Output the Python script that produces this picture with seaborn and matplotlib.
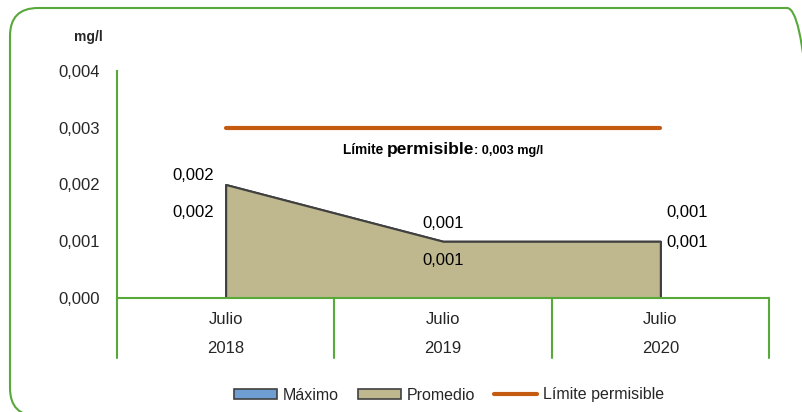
import numpy as np
import pandas as pd
import seaborn as sns
import matplotlib.pyplot as plt
from matplotlib.patches import Patch, FancyBboxPatch
from matplotlib.lines import Line2D
from matplotlib.offsetbox import TextArea, HPacker, AnnotationBbox

# datos
meses = ["Julio", "Julio", "Julio"]
anios = ["2018", "2019", "2020"]
maximo = [0.002, 0.001, 0.001]
promedio = [0.002, 0.001, 0.001]
limite = [0.003, 0.003, 0.003]
yticks = [0.000, 0.001, 0.002, 0.003, 0.004]

df = pd.DataFrame({"pos": range(len(anios)), "maximo": maximo,
                   "promedio": promedio, "limite": limite})

sns.set_theme(style="white")
plt.rcParams['font.family'] = ['Liberation Sans', 'DejaVu Sans']

verde = "#58A83A"
azul = "#6F9FD2"
tan = "#BFB88F"
naranja = "#C55A11"
gris = "#404040"
fs = 12

fig = plt.figure(figsize=(8.02, 4.12), dpi=100)
ax = fig.add_axes([117 / 802, 1 - 298 / 412, 652 / 802, 227 / 412])

# areas
ax.fill_between(df["pos"], 0, df["maximo"], facecolor=azul, edgecolor=gris, lw=1.5, zorder=2)
ax.fill_between(df["pos"], 0, df["promedio"], facecolor=tan, edgecolor=gris, lw=1.5, zorder=3)

# limite permisible
sns.lineplot(data=df, x="pos", y="limite", ax=ax, color=naranja, lw=3,
             solid_capstyle="round", zorder=4, legend=False)

ax.set_xlim(-0.5, 2.5)
ax.set_ylim(0, 0.004)
ax.set_yticks(yticks)
ax.set_yticklabels([f"{v:.3f}".replace(".", ",") for v in yticks], fontsize=fs)
ax.set_xticks(df["pos"])
ax.set_xticklabels([f"{m}\n{a}" for m, a in zip(meses, anios)], fontsize=fs, linespacing=2.2)
ax.tick_params(axis="y", length=6, width=1.5, color=verde, direction="out", pad=6)
ax.tick_params(axis="x", length=0, pad=10)
ax.set_xlabel("")
ax.set_ylabel("")

for s in ["top", "right"]:
    ax.spines[s].set_visible(False)
for s in ["left", "bottom"]:
    ax.spines[s].set_color(verde)
    ax.spines[s].set_linewidth(1.5)
    ax.spines[s].set_zorder(6)

# divisiones de categorias
for xv in [-0.5, 0.5, 1.5, 2.5]:
    ax.plot([xv, xv], [-0.264, 0], transform=ax.get_xaxis_transform(),
            color=verde, lw=1.5, clip_on=False, zorder=6)

# etiquetas de datos
def fmt(v):
    return f"{v:.3f}".replace(".", ",")

offs_max = [(-12, 9, "right"), (0, 18, "center"), (6, 29, "left")]
offs_prom = [(-12, -28, "right"), (0, -19, "center"), (6, -1, "left")]
for i in range(len(anios)):
    dx, dy, ha = offs_max[i]
    ax.annotate(fmt(maximo[i]), (i, maximo[i]), xytext=(dx, dy), textcoords="offset pixels",
                ha=ha, va="center", fontsize=fs, color="black")
    dx, dy, ha = offs_prom[i]
    ax.annotate(fmt(promedio[i]), (i, promedio[i]), xytext=(dx, dy), textcoords="offset pixels",
                ha=ha, va="center", fontsize=fs, color="black")

# texto del limite
partes = [TextArea("Límite ", textprops=dict(fontsize=9.8, fontweight="bold", color="black")),
          TextArea("permisible", textprops=dict(fontsize=12.5, fontweight="bold", color="black")),
          TextArea(": 0,003 mg/l", textprops=dict(fontsize=9.2, fontweight="bold", color="black"))]
caja = HPacker(children=partes, align="baseline", pad=0, sep=0)
ab = AnnotationBbox(caja, (1, 0.00261), frameon=False, box_alignment=(0.5, 0.5))
ax.add_artist(ab)

# unidad
fig.text(88 / 802, 1 - 37 / 412, "mg/l", fontsize=10, fontweight="bold", ha="center", va="center")

# leyenda
handles = [Patch(facecolor=azul, edgecolor=gris, lw=1.2, label="Máximo"),
           Patch(facecolor=tan, edgecolor=gris, lw=1.2, label="Promedio"),
           Line2D([0], [0], color=naranja, lw=3, label="Límite permisible")]
fig.legend(handles=handles, loc="center", bbox_to_anchor=(449 / 802, 1 - 395 / 412), ncol=3,
           frameon=False, fontsize=11.5, handlelength=2.7, handleheight=0.55,
           handletextpad=0.35, columnspacing=1.2)

# borde redondeado (en pixeles)
borde = FancyBboxPatch((10, -4), 805, 408, transform=None,
                       boxstyle="round,pad=0,rounding_size=28", fill=False,
                       edgecolor=verde, lw=1.5, clip_on=False)
fig.add_artist(borde)

fig.savefig("out.png", dpi=100)
